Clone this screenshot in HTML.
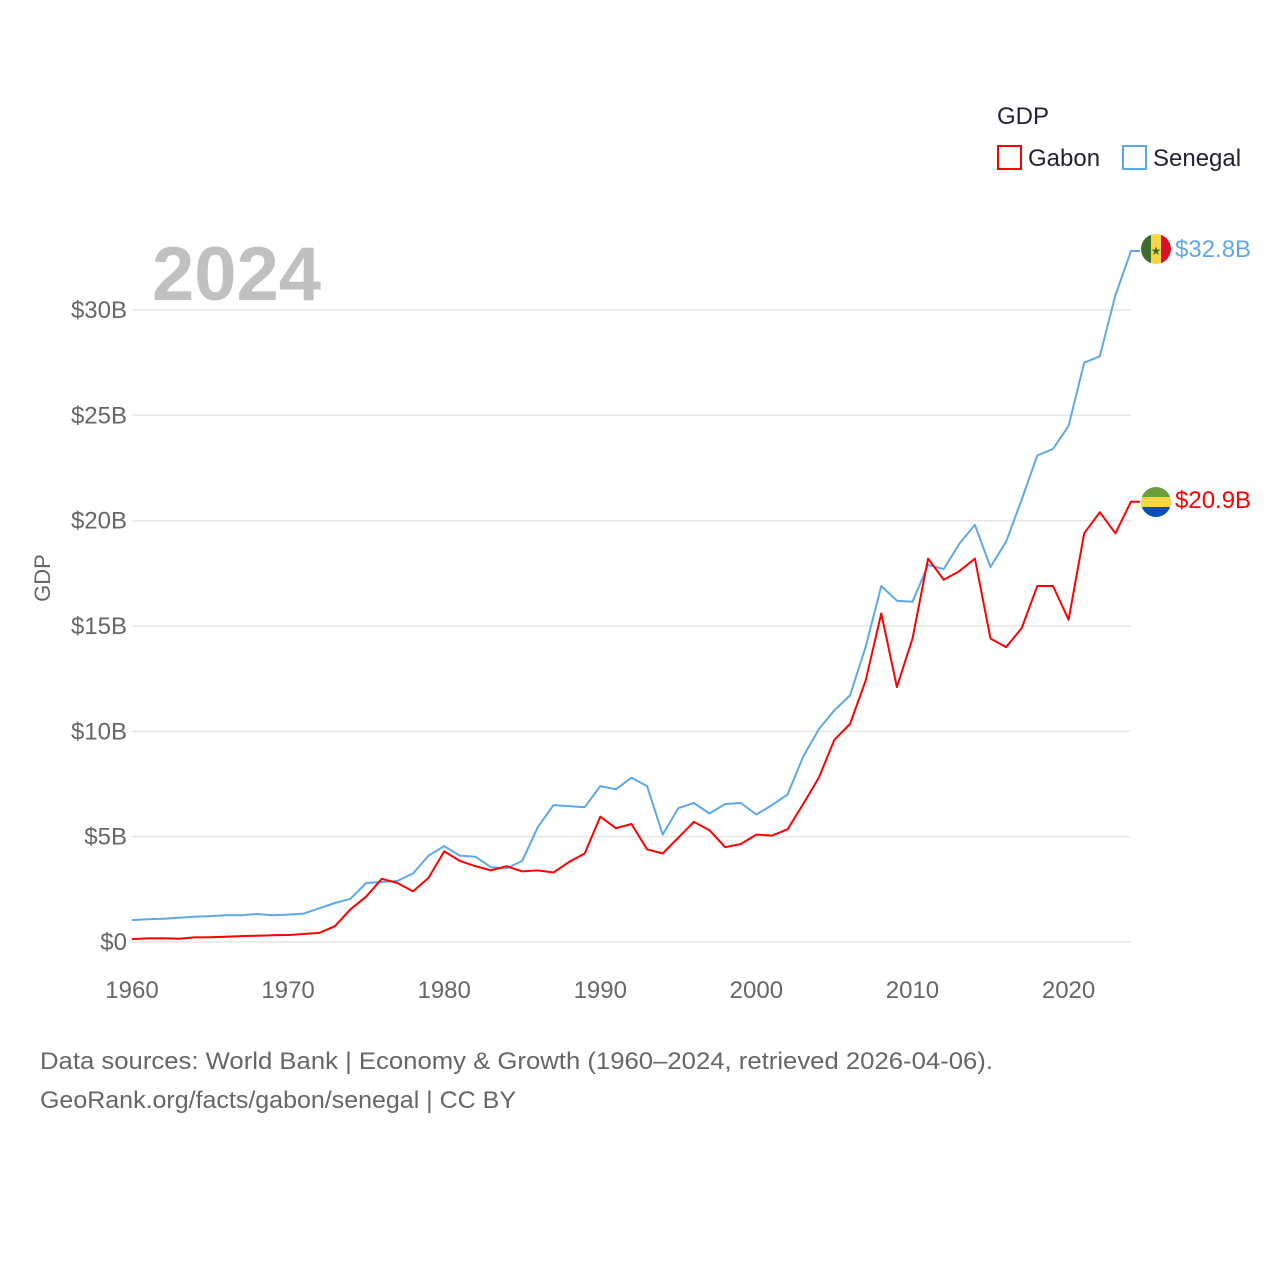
<!DOCTYPE html>
<html><head><meta charset="utf-8"><style>
body{margin:0;background:#fff;font-family:"Liberation Sans",sans-serif}
svg text{font-family:"Liberation Sans",sans-serif}
</style></head><body>
<svg id="chart" width="1280" height="1280" viewBox="0 0 1280 1280" xmlns="http://www.w3.org/2000/svg">
<rect width="1280" height="1280" fill="#fff"/>
<g id="grid"></g>
<text x="152" y="300" font-size="76" font-weight="bold" fill="#c0c0c0">2024</text>
<g id="lines"></g>
<text transform="translate(50,578) rotate(-90)" text-anchor="middle" font-size="22" fill="#666">GDP</text>
<text x="997" y="124" font-size="24" fill="#223">GDP</text>
<g><rect x="998" y="146" width="23" height="23" fill="none" stroke="#f00" stroke-width="2"/><text x="1028" y="166" font-size="24" fill="#223">Gabon</text></g>
<g><rect x="1123" y="146" width="23" height="23" fill="none" stroke="#5fa8e8" stroke-width="2"/><text x="1153" y="166" font-size="24" fill="#223">Senegal</text></g>
<defs>
<clipPath id="c1"><circle cx="1156" cy="249" r="15"/></clipPath>
<clipPath id="c2"><circle cx="1156" cy="502" r="15"/></clipPath>
</defs>
<g clip-path="url(#c1)"><rect x="1141" y="234" width="10" height="30" fill="#3e6b2e"/><rect x="1151" y="234" width="10" height="30" fill="#fcd546"/><rect x="1161" y="234" width="10" height="30" fill="#d8102a"/><text x="1156" y="255" font-size="12" text-anchor="middle" fill="#3e6b2e">★</text></g>
<g clip-path="url(#c2)"><rect x="1141" y="487" width="30" height="10" fill="#6a9e3e"/><rect x="1141" y="497" width="30" height="10" fill="#fcd546"/><rect x="1141" y="507" width="30" height="10" fill="#0051b5"/></g>
<text x="1175" y="257" font-size="24" fill="#5fa8e8">$32.8B</text>
<text x="1175" y="508" font-size="24" fill="#f00">$20.9B</text>
<text x="40" y="1069" font-size="24" fill="#666" textLength="953" lengthAdjust="spacingAndGlyphs">Data sources: World Bank | Economy &amp; Growth (1960–2024, retrieved 2026-04-06).</text>
<text x="40" y="1108" font-size="24" fill="#666" textLength="476" lengthAdjust="spacingAndGlyphs">GeoRank.org/facts/gabon/senegal | CC BY</text>
</svg>
<script>
const years=[];for(let y=1960;y<=2024;y++)years.push(y);
const senegal=[1.04,1.08,1.1,1.15,1.2,1.23,1.27,1.27,1.33,1.27,1.3,1.35,1.6,1.85,2.05,2.8,2.85,2.9,3.25,4.1,4.55,4.1,4.05,3.55,3.5,3.85,5.45,6.5,6.45,6.4,7.4,7.25,7.8,7.4,5.1,6.35,6.6,6.1,6.55,6.6,6.05,6.5,7.0,8.8,10.1,11.0,11.7,14.0,16.9,16.2,16.15,17.9,17.7,18.9,19.8,17.8,19.0,21.0,23.1,23.4,24.5,27.5,27.8,30.7,32.8];
const gabon=[0.14,0.17,0.18,0.15,0.22,0.23,0.25,0.28,0.3,0.32,0.33,0.38,0.43,0.75,1.55,2.15,3.0,2.8,2.4,3.05,4.3,3.85,3.6,3.4,3.6,3.35,3.4,3.3,3.8,4.2,5.95,5.4,5.6,4.4,4.2,4.95,5.7,5.3,4.5,4.65,5.1,5.05,5.35,6.55,7.8,9.6,10.35,12.4,15.6,12.1,14.4,18.2,17.2,17.6,18.2,14.4,14.0,14.9,16.9,16.9,15.3,19.4,20.4,19.4,20.9];
const yTicks=[0,5,10,15,20,25,30];
const xTicks=[1960,1970,1980,1990,2000,2010,2020];
const NS='http://www.w3.org/2000/svg';
const X=y=>132+(y-1960)*(1131-132)/64;
const Y=v=>942-v*(942-310)/30;
const grid=document.getElementById('grid'),lines=document.getElementById('lines');
function mk(tag,a,p){const e=document.createElementNS(NS,tag);for(const k in a)e.setAttribute(k,a[k]);p.appendChild(e);return e;}
yTicks.forEach(v=>{
 const l=mk('line',{x1:132,x2:1131,y1:Y(v),y2:Y(v),stroke:'#e6e6e6','stroke-width':1.5},grid);
 
 
 const t=mk('text',{x:127,y:Y(v)+8,'text-anchor':'end','font-size':24,fill:'#666'},grid);
 t.textContent='$'+v+(v?'B':'');
 
 
});
xTicks.forEach(y=>{
 const t=mk('text',{x:X(y),y:998,'text-anchor':'middle','font-size':24,fill:'#666'},grid);
 t.textContent=y;
 
 
});
function series(vals,color,name){
 const pts=vals.map((v,i)=>X(years[i]).toFixed(1)+','+Y(v).toFixed(1));
 const last=vals[vals.length-1];
 pts.push((X(2024)+9)+','+Y(last).toFixed(1));
 const p=mk('polyline',{points:pts.join(' '),fill:'none',stroke:color,'stroke-width':2,'stroke-linejoin':'round'},lines);
 
 
}
series(senegal,'#5fa8e8','senegal-line');
series(gabon,'#f00','gabon-line');
</script>
</body></html>
